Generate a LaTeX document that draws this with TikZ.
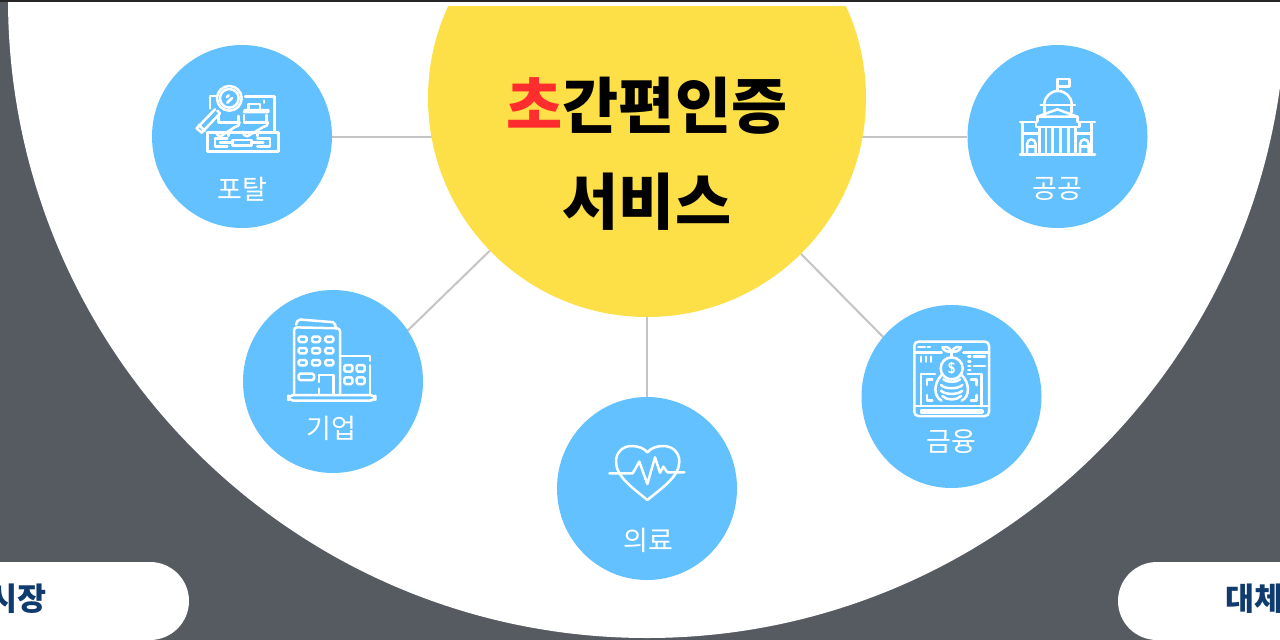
\documentclass[tikz,border=0pt]{standalone}
\usepackage{fontspec}
\newfontfamily\kr{Noto Sans CJK KR}
\usetikzlibrary{shapes.geometric,backgrounds}
\definecolor{bgslate}{HTML}{565B62}
\definecolor{sunny}{HTML}{FDE047}
\definecolor{sky}{HTML}{64C1FF}
\definecolor{navy}{HTML}{0F3B6E}
\definecolor{hot}{HTML}{FF2D2D}
\definecolor{linkgray}{HTML}{C4C4C4}
\tikzset{
  bubble/.style={ellipse,fill=sky,minimum width=180pt,minimum height=183pt,inner sep=0pt},
  hub/.style={circle,fill=sunny,minimum size=438pt,inner sep=0pt},
  caption/.style={text=white,inner sep=0pt,font=\kr\fontsize{27}{27}\selectfont},
  titletext/.style={text=black,inner sep=0pt,font=\kr\bfseries\fontsize{61}{61}\selectfont},
  pilltext/.style={text=navy,inner sep=0pt,font=\kr\bfseries\fontsize{31.5}{31.5}\selectfont},
  link/.style={draw=linkgray,line width=2pt},
  icon/.style={draw=white,line width=2.5pt,line join=round,line cap=round},
  zoomed/.style={x=0.33333pt,y=-0.33333pt}
}
\begin{document}
\begin{tikzpicture}[x=1pt,y=-1pt]
\useasboundingbox (0,0) rectangle (1280,640);
% nodes
\node[hub] (center) at (647,98) {};
\fill[white] (425,2) rectangle (870,5.5);
\node[bubble] (portal) at (242,136.5) {};
\node[bubble] (corp) at (333,381.5) {};
\node[bubble] (med) at (647,488.5) {};
\node[bubble] (fin) at (951.5,396.5) {};
\node[bubble] (pub) at (1057.5,136.5) {};
\coordinate (cornerL) at (400,338);
\coordinate (cornerR) at (890,344);
\begin{scope}[on background layer]
  \fill[bgslate] (0,0) rectangle (1280,640);
  \fill[white] (647,-1) circle[radius=639];
  \draw[link] (portal) -- (portal -| center);
  \draw[link] (pub) -- (pub -| center);
  \draw[link] (center) -- (cornerL);
  \draw[link] (center) -- (cornerR);
  \draw[link] (center) -- (med);
  \fill[white] (-50,562) [rounded corners=39pt] -- (189,562) -- (189,640) [sharp corners] -- (-50,640) -- cycle;
  \fill[white] (1330,562) [rounded corners=39pt] -- (1118,562) -- (1118,640) [sharp corners] -- (1330,640) -- cycle;
\end{scope}
\fill[black!85] (0,0) rectangle (1280,2);
% text
\node[titletext] (t1) at (647,105.5) {\textcolor{hot}{초}간편인증};
\node[titletext] (t2) at (647,202) {서비스};
\node[caption] (c1) at (242,189) {포탈};
\node[caption] (c2) at (331,428) {기업};
\node[caption] (c3) at (648,540) {의료};
\node[caption] (c4) at (951,442) {금융};
\node[caption] (c5) at (1057,189) {공공};
\node[pilltext,anchor=east] (p1) at (47,599) {시장};
\node[pilltext,anchor=west] (p2) at (1225,599) {대체};
% portal icon
\begin{scope}[shift={(170,60)},zoomed,icon]
  \draw (120,145) -- (120,108) -- (140,108);
  \draw (225,110) -- (313,110) -- (313,216);
  \draw (178,115) circle[radius=37];
  \draw (178,115) circle[radius=28];
  \draw (170,112) -- (176,106) (172,128) -- (186,114);
  \draw (142,152) -- (150,160) -- (95,218) -- (80,205) -- (135,148);
  \draw (86,194) -- (104,212);
  \draw (225,150) -- (295,150) -- (295,156) -- (222,156) -- cycle;
  \draw (235,148) -- (235,132) -- (270,132) -- (270,148);
  \draw (282,122) -- (282,128);
  \draw (145,168) -- (145,188) -- (205,188) -- (205,168);
  \draw (222,165) -- (222,188) -- (290,188) -- (290,165);
  \draw (138,215) arc[start angle=180,end angle=90,radius=14] -- (195,201) arc[start angle=90,end angle=0,radius=14];
  \draw (218,215) arc[start angle=180,end angle=90,radius=14] -- (280,201) arc[start angle=90,end angle=0,radius=14];
  \draw (113,217) rectangle (325,275);
  \draw (175,217) -- (175,228) (262,217) -- (262,228);
  \draw (188,240) rectangle (245,257);
  \draw (135,236) -- (172,236) (135,236) -- (135,260) -- (172,260);
  \draw (150,248) -- (188,248) (245,248) -- (280,248);
  \draw (262,236) -- (300,236) -- (300,260) -- (262,260);
\end{scope}
% building icon
\begin{scope}[shift={(270,300)},zoomed,icon]
  \draw[rounded corners=3pt] (72,283) -- (72,82) -- (210,85) -- (210,283);
  \draw[rounded corners=2pt] (78,74) -- (84,58) -- (194,67) -- (198,86);
  \foreach \yy in {118,152,188}{\foreach \xx in {98,138,178}{
    \draw[rounded corners=1.5pt] (\xx-12,\yy-8) rectangle (\xx+12,\yy+8);}}
  \draw[rounded corners=1.5pt] (86,221) rectangle (132,240);
  \draw (147,246) -- (147,225) -- (190,225) -- (190,283);
  \draw (147,266) -- (147,283);
  \draw (210,168) -- (300,168) -- (300,182) (300,196) -- (300,283);
  \foreach \yy in {205,242}{\foreach \xx in {235,272}{
    \draw[rounded corners=1.5pt] (\xx-12,\yy-10) rectangle (\xx+12,\yy+10);}}
  \draw[rounded corners=5pt] (55,285) rectangle (316,302);
\end{scope}
% heart icon
\begin{scope}[shift={(590,420)},zoomed,icon]
  \draw (172,240) .. controls (130,205) and (78,170) .. (78,125) .. controls (78,95) and (100,78) .. (125,78) .. controls (145,78) and (162,85) .. (172,97) .. controls (182,85) and (198,78) .. (220,78) .. controls (245,78) and (268,95) .. (268,125) .. controls (268,170) and (214,205) .. (172,240) -- cycle;
  \draw (58,160) -- (128,160) -- (148,125) -- (172,192) -- (195,112) -- (210,158) -- (220,140) -- (232,157) -- (283,157);
\end{scope}
% finance icon
\begin{scope}[shift={(895,330)},zoomed,icon]
  \draw[rounded corners=4pt] (58,35) rectangle (282,258);
  \draw (58,68) -- (140,68) (205,68) -- (282,68);
  \draw (70,51) -- (90,51) (98,51) -- (105,51);
  \draw (78,80) -- (78,95) (93,80) -- (93,95) (108,80) -- (108,95);
  \draw (220,80) -- (226,80) (236,80) -- (270,80) (220,94) -- (226,94) (220,108) -- (226,108) (236,108) -- (270,108) (220,120) -- (226,120);
  \draw (120,132) -- (78,132) -- (78,228) (218,132) -- (260,132) -- (260,228);
  \draw (58,228) -- (282,228);
  \draw (78,241) rectangle (262,248);
  \draw (170,115) circle[radius=33];
  \node[text=white,inner sep=0pt,font=\sffamily\bfseries\fontsize{15}{15}\selectfont] (dollar) at (170,115) {\$};
  \draw (170,82) -- (170,64);
  \draw (170,64) .. controls (160,48) and (150,50) .. (142,52) .. controls (146,62) and (158,68) .. (170,64);
  \draw (170,64) .. controls (180,48) and (190,50) .. (198,52) .. controls (194,62) and (182,68) .. (170,64);
  \draw (140,135) .. controls (115,160) and (115,200) .. (140,212);
  \draw (200,135) .. controls (225,160) and (225,200) .. (200,212);
  \draw (145,148) .. controls (155,158) and (185,158) .. (195,148);
  \draw (138,165) .. controls (150,178) and (190,178) .. (202,165);
  \draw (138,182) .. controls (150,195) and (190,195) .. (202,182);
  \draw (142,198) .. controls (155,212) and (185,212) .. (198,198);
  \draw (96,165) -- (96,148) -- (112,148);
  \draw (244,165) -- (244,148) -- (228,148);
  \draw (96,195) -- (96,212) -- (112,212);
  \draw (244,195) -- (244,212) -- (228,212);
\end{scope}
% capitol icon
\begin{scope}[shift={(1000,65)},zoomed,icon]
  \draw (172,75) -- (172,42) -- (208,42) -- (208,65) -- (172,65);
  \draw (133,118) arc[start angle=180,end angle=0,x radius=41,y radius=-40];
  \draw (122,120) -- (225,120);
  \draw (133,120) -- (133,142) (215,120) -- (215,142);
  \draw (112,155) -- (172,133) -- (232,155) -- cycle;
  \draw (112,155) -- (112,168) (232,155) -- (232,168);
  \draw (60,171) -- (112,171) (232,171) -- (285,171);
  \draw (108,172) -- (108,186) -- (238,186) -- (238,172);
  \draw (68,171) -- (68,262) (275,171) -- (275,262);
  \draw (68,205) -- (118,205) (226,205) -- (275,205);
  \foreach \xx in {118,138,158,182,205,226}{\draw (\xx,188) -- (\xx,262);}
  \draw (81,262) -- (81,238) arc[start angle=180,end angle=0,x radius=13,y radius=-15] -- (107,262);
  \draw (240,262) -- (240,238) arc[start angle=180,end angle=0,x radius=13,y radius=-15] -- (266,262);
  \draw (81,245) -- (107,245) (240,245) -- (266,245);
  \draw (60,268) -- (285,268);
\end{scope}
\end{tikzpicture}
\end{document}
